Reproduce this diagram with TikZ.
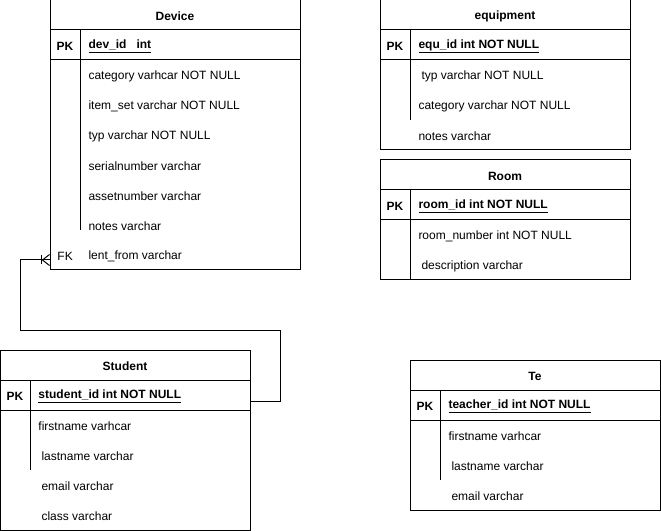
\documentclass[tikz,border=0pt]{standalone}
\usepackage{fontspec}
\setmainfont{Liberation Sans}
\usetikzlibrary{positioning, calc}

\begin{document}
\begin{tikzpicture}[x=0.75pt, y=-0.75pt, line width=0.75pt,
  tbl/.style={draw, minimum width=187.5pt, inner sep=0pt},
  title/.style={yshift=-1pt, font=\fontsize{9}{11}\selectfont\bfseries},
  field/.style={anchor=west, yshift=-1pt, inner sep=0pt, font=\fontsize{9}{11}\selectfont},
  key/.style={yshift=-1pt, inner sep=0pt, font=\fontsize{9}{11}\selectfont\bfseries}
]
  \useasboundingbox (0,0) rectangle (661,531);

  % Device
  \node[tbl, minimum height=202.5pt] (device) at (175,135) {};
  \node[title] (devname) at (175,15) {Device};
  \draw (50,30) -- (300,30);
  \draw (50,60) -- (300,60);
  \draw (80,30) -- (80,230);
  \node[key]   (devpk)     at (65,45)  {PK};
  \node[field] (devid)     at (88,45)  {\underline{\textbf{dev\_id\ \ \ int}}};
  \node[field] (devcat)    at (88,75)  {category varhcar NOT NULL};
  \node[field] (devset)    at (88,105) {item\_set varchar NOT NULL};
  \node[field] (devtyp)    at (88,135) {typ varchar NOT NULL};
  \node[field] (devserial) at (88,165) {serialnumber varchar};
  \node[field] (devasset)  at (88,195) {assetnumber varchar};
  \node[field] (devnotes)  at (88,225) {notes varchar};
  \node[field] (devfk)     at (57,255) {FK};
  \node[field] (devlent)   at (88,255) {lent\_from varchar};

  % equipment
  \node[tbl, minimum height=112.5pt] (equipment) at (505,75) {};
  \node[title] (equname) at (505,15) {equipment};
  \draw (380,30) -- (630,30);
  \draw (380,60) -- (630,60);
  \draw (410,30) -- (410,120);
  \node[key]   (equpk)    at (395,45)  {PK};
  \node[field] (equid)    at (418,45)  {\underline{\textbf{equ\_id int NOT NULL}}};
  \node[field] (equtyp)   at (421,75)  {typ varchar NOT NULL};
  \node[field] (equcat)   at (418,105) {category varchar NOT NULL};
  \node[field] (equnotes) at (418,135) {notes varchar};

  % Room
  \node[tbl, minimum height=90pt] (room) at (505,220) {};
  \node[title] (roomname) at (505,175) {Room};
  \draw (380,190) -- (630,190);
  \draw (380,220) -- (630,220);
  \draw (410,190) -- (410,280);
  \node[key]   (roompk)   at (395,205) {PK};
  \node[field] (roomid)   at (418,205) {\underline{\textbf{room\_id int NOT NULL}}};
  \node[field] (roomnum)  at (418,235) {room\_number int NOT NULL};
  \node[field] (roomdesc) at (421,265) {description varchar};

  % Student
  \node[tbl, minimum height=135pt] (student) at (125,440) {};
  \node[title] (stuname) at (125,365) {Student};
  \draw (0,380) -- (250,380);
  \draw (0,410) -- (250,410);
  \draw (30,380) -- (30,470);
  \node[key]   (stupk)    at (15,395) {PK};
  \node[field] (stuid)    at (38,395) {\underline{\textbf{student\_id int NOT NULL}}};
  \node[field] (stufirst) at (38,425) {firstname varhcar};
  \node[field] (stulast)  at (41,455) {lastname varchar};
  \node[field] (stumail)  at (41,485) {email varchar};
  \node[field] (stuclass) at (41,515) {class varchar};

  % Te
  \node[tbl, minimum height=112.5pt] (teacher) at (535,435) {};
  \node[title] (tename) at (535,375) {Te};
  \draw (410,390) -- (660,390);
  \draw (410,420) -- (660,420);
  \draw (440,390) -- (440,480);
  \node[key]   (tepk)    at (425,405) {PK};
  \node[field] (teid)    at (448,405) {\underline{\textbf{teacher\_id int NOT NULL}}};
  \node[field] (tefirst) at (448,435) {firstname varhcar};
  \node[field] (telast)  at (451,465) {lastname varchar};
  \node[field] (temail)  at (451,495) {email varchar};

  % lent_from -> Student
  \coordinate (bend) at (280,330);
  \coordinate (turn) at (20,260);
  \draw ($(student.east |- stupk)+(0,5)$) -| (bend) -| (turn) -- (device.west |- turn);
  \draw ($(device.west |- turn)+(-8,-4.5)$) -- ++(0,9);
  \draw (device.west |- turn) ++(0,-5.5) -- ++(-7,5.5) -- ++(7,5.5);
\end{tikzpicture}
\end{document}
